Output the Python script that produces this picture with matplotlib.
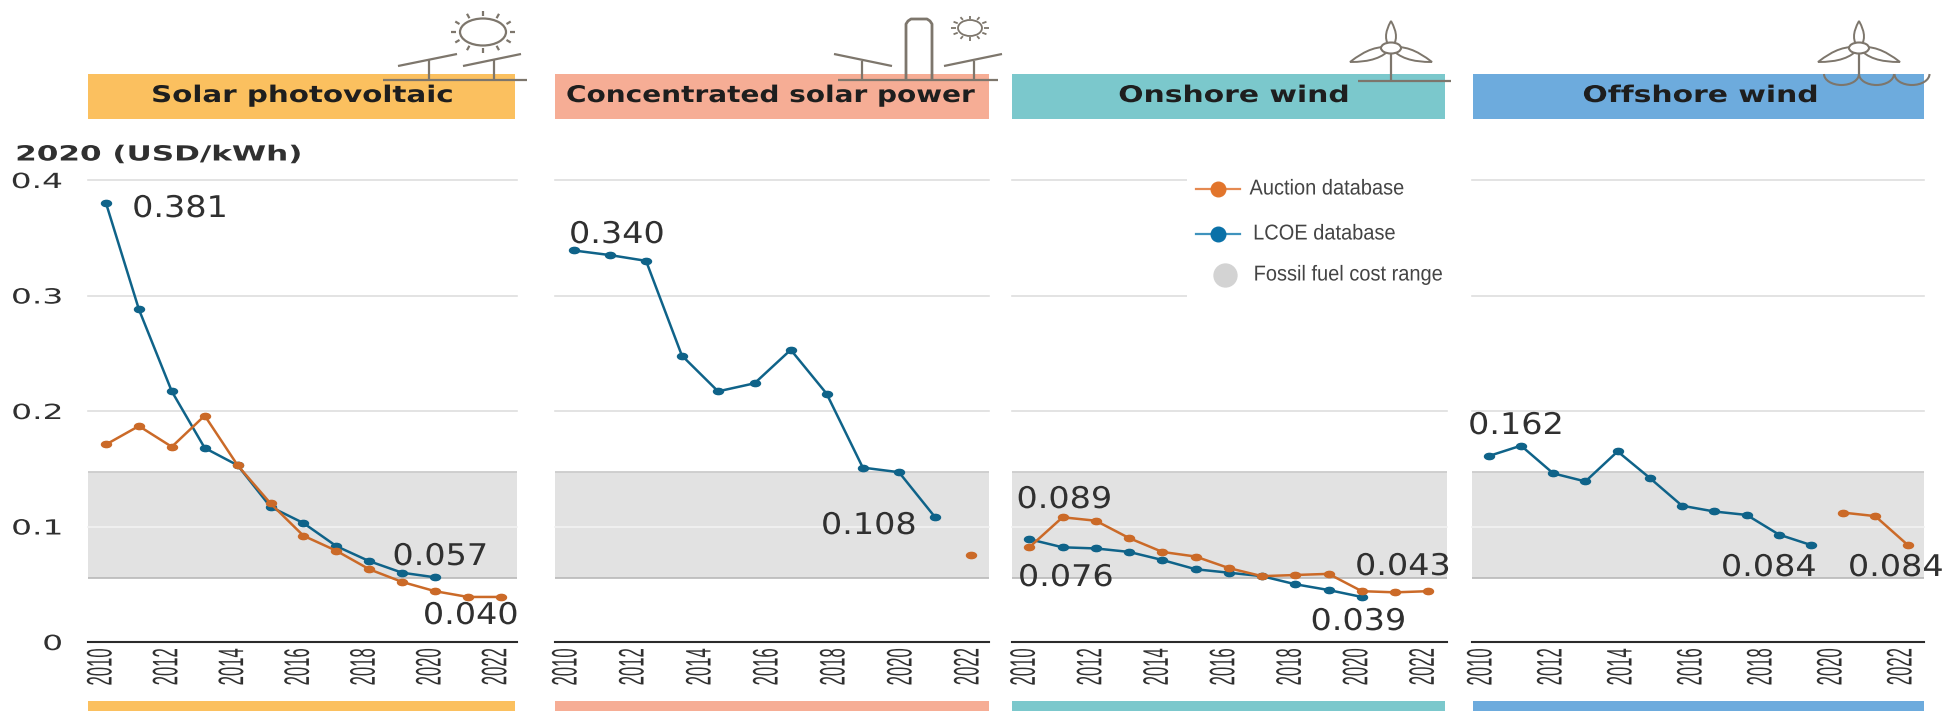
import numpy as np
import matplotlib
matplotlib.use('Agg')
import matplotlib.pyplot as plt
import matplotlib.patheffects as pe
from matplotlib.markers import MarkerStyle
from matplotlib.patches import Rectangle, Ellipse, Arc, PathPatch
from matplotlib.path import Path
from matplotlib.transforms import Affine2D

W, H = 1947, 711
AXIS_TOP, AXIS_BOTTOM = 180, 642

# --- data ---
years = list(range(2010, 2023))
tick_years = [2010, 2012, 2014, 2016, 2018, 2020, 2022]
y_ticks = [0, 0.1, 0.2, 0.3, 0.4]
y_tick_labels = ['0', '0.1', '0.2', '0.3', '0.4']
fossil_low, fossil_high = 0.0555, 0.147

pv_lcoe = [0.380, 0.288, 0.217, 0.168, 0.153, 0.117, 0.103, 0.083, 0.070, 0.060, 0.056]
pv_auction = [0.171, 0.187, 0.169, 0.196, 0.153, 0.120, 0.092, 0.079, 0.063, 0.052, 0.044, 0.039, 0.039]

csp_lcoe_x = [2010.08, 2011.16, 2012.24, 2013.31, 2014.39, 2015.48, 2016.56, 2017.63, 2018.71, 2019.79, 2020.87]
csp_lcoe = [0.339, 0.335, 0.330, 0.248, 0.217, 0.224, 0.253, 0.215, 0.151, 0.147, 0.108]
csp_auction_x = [2021.94]
csp_auction = [0.075]

on_lcoe = [0.089, 0.082, 0.081, 0.078, 0.071, 0.063, 0.060, 0.057, 0.050, 0.045, 0.039]
on_auction = [0.082, 0.108, 0.105, 0.090, 0.078, 0.074, 0.064, 0.057, 0.058, 0.059, 0.044, 0.043, 0.044]

off_lcoe_x = [2010.08, 2011.0, 2011.92, 2012.84, 2013.76, 2014.68, 2015.6, 2016.52, 2017.45, 2018.37, 2019.28]
off_lcoe = [0.161, 0.170, 0.146, 0.139, 0.165, 0.142, 0.118, 0.113, 0.110, 0.093, 0.084]
off_auction_x = [2020.21, 2021.12, 2022.05]
off_auction = [0.112, 0.109, 0.084]

BLUE = '#0f6389'
ORANGE = '#cb6a28'
TEXT = '#303030'
ICON = '#7d766c'


class Stretch(pe.AbstractPathEffect):
    """Scale a text along and across its baseline, pivoting on its ink edge."""
    def __init__(self, sx=1.0, sy=1.0, pivot='left'):
        super().__init__()
        self.sx, self.sy, self.pivot = sx, sy, pivot

    def draw_path(self, renderer, gc, tpath, affine, rgbFace=None):
        ext = tpath.get_extents()
        px = {'left': ext.x0, 'center': (ext.x0 + ext.x1) / 2, 'right': ext.x1}[self.pivot]
        scaled = Affine2D().translate(-px, 0).scale(self.sx, self.sy).translate(px, 0) + affine
        renderer.draw_path(gc, tpath, scaled, rgbFace)


def ellipse_marker():
    return MarkerStyle('o', transform=Affine2D().scale(1.6, 1))


fig = plt.figure(figsize=(W / 100, H / 100), dpi=100, facecolor='white')

# x0, x1 of the plot area, pixel of 2010 on the axis, pixels per year
panels = [
    (88, 517, 106, 32.9, years[:len(pv_lcoe)], pv_lcoe, years, pv_auction),
    (555, 989, 571, 33.5, csp_lcoe_x, csp_lcoe, csp_auction_x, csp_auction),
    (1012, 1447, 1029.3, 33.25, years[:len(on_lcoe)], on_lcoe, years, on_auction),
    (1472, 1924, 1486, 35.0, off_lcoe_x, off_lcoe, off_auction_x, off_auction),
]

for i, (x0, x1, p2010, ppy, lx, ly, ax_, ay) in enumerate(panels):
    ax = fig.add_axes([x0 / W, 1 - AXIS_BOTTOM / H, (x1 - x0) / W, (AXIS_BOTTOM - AXIS_TOP) / H])
    ax.set_xlim(2010 + (x0 - p2010) / ppy, 2010 + (x1 - p2010) / ppy)
    ax.set_ylim(0, 0.4)
    ax.patch.set_alpha(0)
    for s in ['top', 'left', 'right']:
        ax.spines[s].set_visible(False)
    ax.spines['bottom'].set_color('#2b2b2b')
    ax.spines['bottom'].set_linewidth(1.5)

    ax.axhspan(fossil_low, fossil_high, facecolor='#e2e2e2', edgecolor='none', zorder=1)
    ax.axhline(fossil_high, color='#cccccc', lw=1.3, zorder=1.5)
    ax.axhline(fossil_low, color='#b9b9b9', lw=1.2, zorder=1.5)
    for v in y_ticks[1:]:
        c = '#f2f2f2' if fossil_low < v < fossil_high else '#dedede'
        ax.axhline(v, color=c, lw=1.2, zorder=1.6, clip_on=False)

    ax.plot(lx, ly, color=BLUE, lw=1.8, marker=ellipse_marker(), ms=4.5, zorder=3)
    ax.plot(ax_, ay, color=ORANGE, lw=1.8, marker=ellipse_marker(), ms=4.5, zorder=4)

    ax.set_xticks(tick_years, [str(y) for y in tick_years], rotation=90)
    ax.tick_params(axis='x', length=0, pad=4.3, labelsize=15, labelcolor=TEXT)
    for lab in ax.get_xticklabels():
        lab.set_family('Liberation Sans')
        lab.set_path_effects([Stretch(0.8, 1.7, 'right')])

    if i == 0:
        ax.set_yticks(y_ticks, y_tick_labels)
        ax.tick_params(axis='y', length=0, pad=18.5, labelsize=15, labelcolor=TEXT)
        for lab in ax.get_yticklabels():
            lab.set_path_effects([Stretch(1.58, 1.0, 'right')])
    else:
        ax.set_yticks([])

# overlay in pixel coordinates for bands, icons, labels and the legend
ov = fig.add_axes([0, 0, 1, 1], zorder=10)
ov.set_xlim(0, W)
ov.set_ylim(H, 0)
ov.axis('off')
ov.patch.set_alpha(0)

bands = [(88, 515, '#fbc05f'), (555, 989, '#f6ad95'), (1012, 1445, '#7bc8cc'), (1473, 1924, '#6dabdd')]
names = ['Solar photovoltaic', 'Concentrated solar power', 'Onshore wind', 'Offshore wind']
name_cx = [302, 770, 1233.5, 1700]
name_sx = [1.28, 1.22, 1.3, 1.3]
for (x0, x1, c), name, cx, sx in zip(bands, names, name_cx, name_sx):
    ov.add_patch(Rectangle((x0, 74), x1 - x0, 45, fc=c, ec='none', zorder=1))
    ov.add_patch(Rectangle((x0, 700.5), x1 - x0, 11, fc=c, ec='none', zorder=1))
    ov.text(cx, 102, name, ha='center', va='baseline', fontsize=16.5, fontweight='bold',
            color='#1e1e1e', zorder=5, path_effects=[Stretch(sx, 1.0, 'center')])

ov.text(16, 160.5, '2020 (USD/kWh)', ha='left', va='baseline', fontsize=15, fontweight='bold',
        color=TEXT, zorder=5, path_effects=[Stretch(1.49, 1.0, 'left')])

# value labels: text, centre x, baseline y
value_labels = [
    ('0.381', 180, 217), ('0.057', 440.5, 565), ('0.040', 471, 624),
    ('0.340', 617, 243), ('0.108', 869, 534),
    ('0.089', 1064.5, 508), ('0.076', 1066, 586), ('0.043', 1403, 575), ('0.039', 1358.5, 630),
    ('0.162', 1516, 434), ('0.084', 1769, 576), ('0.084', 1896, 576),
]
for s, cx, by in value_labels:
    ov.text(cx, by, s, ha='center', va='baseline', fontsize=21.5, color=TEXT, zorder=6,
            path_effects=[Stretch(1.12, 1.0, 'center')])


def icon_line(xs, ys, lw=1.6):
    ov.plot(xs, ys, color=ICON, lw=lw, solid_capstyle='butt', zorder=4)


def sun(cx, cy, rx, ry, ox, oy, lw=1.6):
    ov.add_patch(Ellipse((cx, cy), 2 * rx, 2 * ry, fc='none', ec=ICON, lw=lw, zorder=4))
    for a in np.deg2rad(np.arange(0, 360, 30)):
        icon_line([cx + 1.18 * rx * np.cos(a), cx + ox * np.cos(a)],
                  [cy + 1.18 * ry * np.sin(a), cy + oy * np.sin(a)], lw)


def turbine(hx, hy, bottom, tips):
    for tx, ty in tips:
        dx, dy = tx - hx, ty - hy
        n = np.hypot(dx, dy)
        px, py = -dy / n * 10, dx / n * 10
        mx, my = hx + 0.35 * dx, hy + 0.35 * dy
        verts = [(hx, hy), (mx + px, my + py), (tx, ty), (mx - px, my - py), (hx, hy)]
        codes = [Path.MOVETO, Path.CURVE3, Path.CURVE3, Path.CURVE3, Path.CURVE3]
        ov.add_patch(PathPatch(Path(verts, codes), fc='none', ec=ICON, lw=1.4, zorder=4))
    icon_line([hx, hx], [hy + 5, bottom])
    ov.add_patch(Ellipse((hx, hy), 20, 11, fc='white', ec=ICON, lw=1.5, zorder=4.5))


# solar PV icon
sun(483, 32, 23, 13.5, 32, 21)
icon_line([398, 457], [66, 54])
icon_line([463, 521], [66, 54])
icon_line([429, 429], [60, 80])
icon_line([494, 494], [60, 80])
icon_line([383, 527], [80, 80])

# CSP icon
sun(970, 28, 12, 8, 19, 12.5, 1.3)
icon_line([834, 892], [54, 66])
icon_line([944, 1002], [66, 54])
icon_line([862, 862], [61, 80])
icon_line([974, 974], [61, 80])
icon_line([838, 998], [80, 80])
icon_line([906, 906, 908, 911, 927, 930, 932, 932], [80, 24, 21, 19, 19, 21, 24, 80], 2)

# wind icons
turbine(1391, 48, 81, [(1391, 21), (1350, 62), (1432, 62)])
icon_line([1357.5, 1450.5], [81, 81])
turbine(1859, 48, 78, [(1859, 21), (1818, 62), (1900, 62)])
for c in [1841.5, 1876.5, 1912]:
    ov.add_patch(Arc((c, 74), 35, 22, theta1=0, theta2=180, ec=ICON, lw=1.5, zorder=4))

# legend
ov.add_patch(Rectangle((1187, 170), 284, 130, fc='white', ec='none', zorder=2))
legend_labels = ['Auction database', 'LCOE database', 'Fossil fuel cost range']
legend_y = [189, 234, 275]
legend_x = [1249.5, 1253, 1253.5]
ov.plot([1196, 1240], [189, 189], color='#e58a52', lw=1.6, zorder=3)
ov.plot([1218], [189], marker='o', ms=10.5, color='#e2752c', ls='none', zorder=3)
ov.plot([1196, 1240], [234, 234], color='#3f93bd', lw=1.6, zorder=3)
ov.plot([1218], [234], marker='o', ms=10.5, color='#0a71a8', ls='none', zorder=3)
ov.plot([1224.6], [275], marker='o', ms=16.5, color='#d3d3d3', ls='none', zorder=3)
for s, x, y in zip(legend_labels, legend_x, legend_y):
    ov.text(x, y, s, ha='left', va='center', fontsize=15.5, family='Liberation Sans', color='#444444',
            zorder=3, path_effects=[Stretch(0.93, 1.0, 'left')])

fig.savefig('out.png', dpi=100, facecolor='white')
